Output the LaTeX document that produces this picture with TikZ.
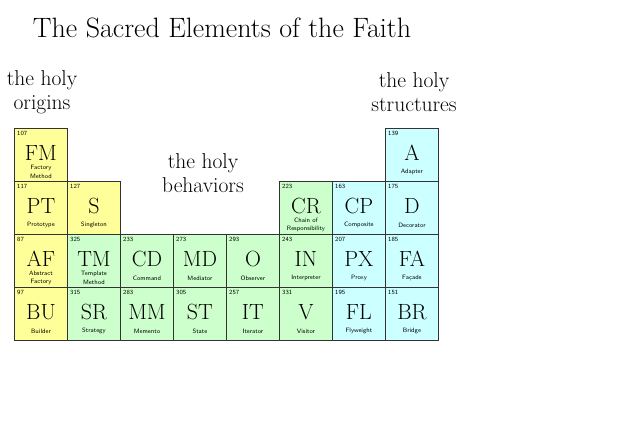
\documentclass[tikz,border=0pt]{standalone}
\usepackage{fontspec}
\definecolor{origin}{HTML}{FFFF99}
\definecolor{behav}{HTML}{CCFFCC}
\definecolor{struct}{HTML}{CCFFFF}
\tikzset{
  cell/.style={draw=black!80, line width=0.9pt, minimum width=53pt, minimum height=53pt, inner sep=0pt, anchor=north west},
  num/.style={font=\sffamily\fontsize{6.3}{7}\selectfont, anchor=north west, inner sep=0pt},
  sym/.style={font=\fontsize{22}{22}\selectfont, inner sep=0pt},
  lab/.style={font=\sffamily\fontsize{6.3}{8.5}\selectfont, align=center, inner sep=0pt},
  head/.style={font=\fontsize{21.5}{24}\selectfont, align=center, inner sep=0pt},
}
\newcommand\elem[7]{%
  \node[cell, fill=#7] (#1) at (#2,#3) {};
  \node[num] (#1n) at ([shift={(3pt,-3pt)}]#1.north west) {#4};
  \node[sym] (#1s) at ([yshift=-25pt]#1.north) {#5};
  \node[lab] (#1l) at ([yshift=-44pt]#1.north) {#6};
}
\begin{document}
\begin{tikzpicture}[x=1pt,y=-1pt]
\useasboundingbox (0,0) rectangle (635,434);
\node[font=\fontsize{28}{30}\selectfont, inner sep=0pt] (title) at (222,28) {The Sacred Elements of the Faith};
\node[head] (orig) at (42,92) {the holy\\origins};
\node[head] (beh) at (203,173) {the holy\\behaviors};
\node[head] (str) at (414,92) {the holy\\structures};
% origins
\elem{FM}{14}{128}{107}{FM}{Factory\\Method}{origin}
\elem{PT}{14}{181}{117}{PT}{Prototype}{origin}
\elem{S}{67}{181}{127}{S}{Singleton}{origin}
\elem{AF}{14}{234}{87}{AF}{Abstract\\Factory}{origin}
\elem{BU}{14}{287}{97}{BU}{Builder}{origin}
% behaviors
\elem{TM}{67}{234}{325}{TM}{Template\\Method}{behav}
\elem{SR}{67}{287}{315}{SR}{Strategy}{behav}
\elem{CD}{120}{234}{233}{CD}{Command}{behav}
\elem{MM}{120}{287}{283}{MM}{Memento}{behav}
\elem{MD}{173}{234}{273}{MD}{Mediator}{behav}
\elem{ST}{173}{287}{305}{ST}{State}{behav}
\elem{O}{226}{234}{293}{O}{Observer}{behav}
\elem{IT}{226}{287}{257}{IT}{Iterator}{behav}
\elem{CR}{279}{181}{223}{CR}{Chain of\\Responsibility}{behav}
\elem{IN}{279}{234}{243}{IN}{Interpreter}{behav}
\elem{V}{279}{287}{331}{V}{Visitor}{behav}
% structures
\elem{CP}{332}{181}{163}{CP}{Composite}{struct}
\elem{PX}{332}{234}{207}{PX}{Proxy}{struct}
\elem{FL}{332}{287}{195}{FL}{Flyweight}{struct}
\elem{A}{385}{128}{139}{A}{Adapter}{struct}
\elem{D}{385}{181}{175}{D}{Decorator}{struct}
\elem{FA}{385}{234}{185}{FA}{Façade}{struct}
\elem{BR}{385}{287}{151}{BR}{Bridge}{struct}
\end{tikzpicture}
\end{document}
